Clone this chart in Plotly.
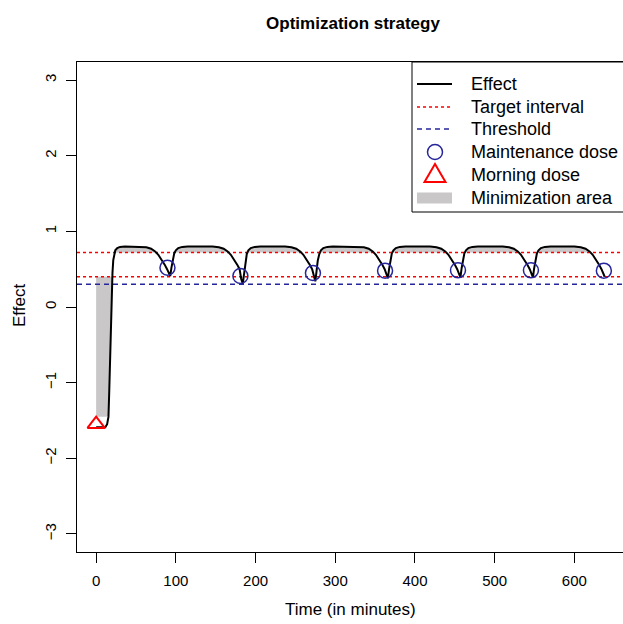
import numpy as np
import plotly.graph_objects as go

# ---------------- data ----------------
time_min = [
    0, 11.5, 13.8, 15.5, 16.5, 18, 19.5, 20.5, 21.5, 22.5, 24, 26.5, 30, 36,
    55, 63, 69, 74, 78, 82, 86, 89, 91, 93, 94.5, 96, 98, 100, 103, 108, 115,
    146, 154, 160, 165, 169, 173, 177, 180, 182, 184, 185.5, 187, 189, 191, 194, 199, 206,
    237, 245, 251, 256, 260, 264, 268, 271, 273, 275, 276.5, 278, 280, 282, 285, 290, 297,
    328, 336, 342, 347, 351, 355, 359, 362, 364, 366, 367.5, 369, 371, 373, 376, 381, 388,
    419, 427, 433, 438, 442, 446, 450, 453, 455, 457, 458.5, 460, 462, 464, 467, 472, 479,
    510, 518, 524, 529, 533, 537, 541, 544, 546, 548, 549.5, 551, 553, 555, 558, 563, 570,
    600, 608, 614, 619, 623, 627, 631, 634, 636, 638,
]
effect = [
    -1.59, -1.59, -1.55, -1.45, -1.10, -0.40, 0.20, 0.45, 0.62, 0.70, 0.75, 0.78, 0.795, 0.80,
    0.80, 0.79, 0.77, 0.735, 0.69, 0.63, 0.56, 0.50, 0.46, 0.41, 0.52, 0.63, 0.71, 0.75, 0.78, 0.795, 0.80,
    0.80, 0.79, 0.77, 0.735, 0.69, 0.63, 0.56, 0.50, 0.37, 0.31, 0.45, 0.60, 0.70, 0.75, 0.78, 0.795, 0.80,
    0.80, 0.79, 0.77, 0.735, 0.69, 0.63, 0.56, 0.50, 0.40, 0.34, 0.47, 0.61, 0.70, 0.75, 0.78, 0.795, 0.80,
    0.80, 0.79, 0.77, 0.735, 0.69, 0.63, 0.56, 0.50, 0.43, 0.38, 0.50, 0.62, 0.71, 0.75, 0.78, 0.795, 0.80,
    0.80, 0.79, 0.77, 0.735, 0.69, 0.63, 0.56, 0.50, 0.44, 0.39, 0.51, 0.62, 0.71, 0.75, 0.78, 0.795, 0.80,
    0.80, 0.79, 0.77, 0.735, 0.69, 0.63, 0.56, 0.50, 0.44, 0.39, 0.51, 0.62, 0.71, 0.75, 0.78, 0.795, 0.80,
    0.80, 0.79, 0.77, 0.735, 0.69, 0.63, 0.56, 0.50, 0.45, 0.40,
]
maintenance_time = [89.5, 181, 272, 362.5, 454, 545.5, 637]
maintenance_effect = [0.52, 0.41, 0.45, 0.48, 0.485, 0.485, 0.48]
morning_time = [0]
morning_effect = [-1.55]
target_interval = [0.40, 0.72]
threshold = 0.30
area_floor = -1.45

x_ticks = [0, 100, 200, 300, 400, 500, 600]
y_ticks = [-3, -2, -1, 0, 1, 2, 3]
legend_labels = ["Effect", "Target interval", "Threshold",
                 "Maintenance dose", "Morning dose", "Minimization area"]

title_text = "Optimization strategy"
x_title = "Time (in minutes)"
y_title = "Effect"

# ---------------- styling / layout ----------------
W, H = 623, 624
PL, PR, PT, PB = 77, 623, 62, 552
X_RANGE = [-24, 661]
Y_RANGE = [-3.24, 3.24]
FONT = "Liberation Sans, Arial, sans-serif"
RED = "#ff0000"
BLUE = "#26269c"
GREY = "#c9c7c7"


def px_x(p):
    return (p - PL) / (PR - PL)


def px_y(p):
    return (PB - p) / (PB - PT)


t = np.array(time_min)
e = np.array(effect)
lo, hi = target_interval

fig = go.Figure()

# minimization area (above upper target)
fig.add_trace(go.Scatter(x=t, y=np.full_like(e, hi), mode="lines",
                         line=dict(width=0), showlegend=False, hoverinfo="skip"))
fig.add_trace(go.Scatter(x=t, y=np.maximum(e, hi), mode="lines",
                         line=dict(width=0), fill="tonexty", fillcolor=GREY,
                         showlegend=False, hoverinfo="skip"))
# minimization area (below lower target)
fig.add_trace(go.Scatter(x=t, y=np.full_like(e, lo), mode="lines",
                         line=dict(width=0), showlegend=False, hoverinfo="skip"))
fig.add_trace(go.Scatter(x=t, y=np.clip(e, area_floor, lo), mode="lines",
                         line=dict(width=0), fill="tonexty", fillcolor=GREY,
                         showlegend=False, hoverinfo="skip"))

# target interval and threshold
for v in target_interval:
    fig.add_trace(go.Scatter(x=X_RANGE, y=[v, v], mode="lines",
                             line=dict(color=RED, width=1.5, dash="dot"),
                             showlegend=False, hoverinfo="skip"))
fig.add_trace(go.Scatter(x=X_RANGE, y=[threshold, threshold], mode="lines",
                         line=dict(color=BLUE, width=1.5, dash="5px,4px"),
                         showlegend=False, hoverinfo="skip"))

# effect curve
fig.add_trace(go.Scatter(x=t, y=e, mode="lines", line=dict(color="black", width=2),
                         showlegend=False))
# doses
fig.add_trace(go.Scatter(x=maintenance_time, y=maintenance_effect, mode="markers",
                         marker=dict(symbol="circle-open", size=15,
                                     line=dict(color=BLUE, width=1.5), color=BLUE),
                         showlegend=False))
fig.add_trace(go.Scatter(x=morning_time, y=morning_effect, mode="markers",
                         marker=dict(symbol="triangle-up-open", size=15,
                                     line=dict(color=RED, width=2), color=RED),
                         showlegend=False))

# ---------------- hand-drawn legend (R style) ----------------
shapes = []
annotations = []
shapes.append(dict(type="rect", xref="paper", yref="paper",
                   x0=px_x(412), x1=px_x(640), y0=px_y(212), y1=px_y(62),
                   line=dict(color="black", width=1), fillcolor="white", layer="above"))
ly = [84, 107, 129, 152, 175, 198]
sx0, sx1, sxc = 417, 452, 435
shapes.append(dict(type="line", xref="paper", yref="paper", x0=px_x(sx0), x1=px_x(sx1),
                   y0=px_y(ly[0]), y1=px_y(ly[0]), line=dict(color="black", width=2)))
shapes.append(dict(type="line", xref="paper", yref="paper", x0=px_x(sx0), x1=px_x(sx1),
                   y0=px_y(ly[1]), y1=px_y(ly[1]), line=dict(color=RED, width=1.5, dash="dot")))
shapes.append(dict(type="line", xref="paper", yref="paper", x0=px_x(sx0), x1=px_x(sx1),
                   y0=px_y(ly[2]), y1=px_y(ly[2]), line=dict(color=BLUE, width=1.5, dash="5px,4px")))
shapes.append(dict(type="circle", xref="paper", yref="paper",
                   x0=px_x(sxc - 7.5), x1=px_x(sxc + 7.5),
                   y0=px_y(ly[3] + 7.5), y1=px_y(ly[3] - 7.5),
                   line=dict(color=BLUE, width=1.5)))
tri = [(sxc, ly[4] - 11), (sxc - 10.5, ly[4] + 7), (sxc + 10.5, ly[4] + 7)]
path = "M {} {} L {} {} L {} {} Z".format(
    px_x(tri[0][0]), px_y(tri[0][1]), px_x(tri[1][0]), px_y(tri[1][1]),
    px_x(tri[2][0]), px_y(tri[2][1]))
shapes.append(dict(type="path", xref="paper", yref="paper", path=path,
                   line=dict(color=RED, width=2)))
shapes.append(dict(type="rect", xref="paper", yref="paper",
                   x0=px_x(sx0), x1=px_x(sx1), y0=px_y(ly[5] + 5.5), y1=px_y(ly[5] - 5.5),
                   line=dict(width=0), fillcolor=GREY))
for lab, yy in zip(legend_labels, ly):
    annotations.append(dict(text=lab, xref="paper", yref="paper", x=px_x(469), y=px_y(yy),
                            xanchor="left", yanchor="middle", showarrow=False,
                            font=dict(family=FONT, size=18, color="black")))

# axis titles
annotations.append(dict(text=x_title, xref="paper", yref="paper", x=0.5, y=px_y(609),
                        xanchor="center", yanchor="middle", showarrow=False,
                        font=dict(family=FONT, size=17, color="black")))
annotations.append(dict(text=y_title, xref="paper", yref="paper", x=px_x(19), y=px_y(306),
                        xanchor="center", yanchor="middle", showarrow=False, textangle=-90,
                        font=dict(family=FONT, size=17, color="black")))

fig.update_layout(
    width=W, height=H, autosize=False,
    margin=dict(l=PL, r=W - PR, t=PT, b=H - PB, pad=0),
    paper_bgcolor="white", plot_bgcolor="white",
    font=dict(family=FONT, size=15, color="black"),
    title=dict(text="<b>" + title_text + "</b>", x=353 / W, xanchor="center",
               y=1 - 23 / H, yanchor="middle", xref="container", yref="container",
               font=dict(family=FONT, size=17, color="black")),
    shapes=shapes, annotations=annotations, showlegend=False,
)
fig.update_xaxes(range=X_RANGE, tickvals=x_ticks, ticks="outside", ticklen=10,
                 tickwidth=1, tickcolor="black", showline=True, linecolor="black",
                 linewidth=1, mirror=True, showgrid=False, zeroline=False,
                 ticklabelstandoff=5, tickfont=dict(size=15))
fig.update_yaxes(range=Y_RANGE, tickvals=y_ticks, ticks="outside", ticklen=10,
                 tickwidth=1, tickcolor="black", showline=True, linecolor="black",
                 linewidth=1, mirror=False, showgrid=False, zeroline=False,
                 tickangle=-90, ticklabelstandoff=4, tickfont=dict(size=15))

fig.write_html("out.html",
               config={"displayModeBar": False, "staticPlot": True},
               post_script="document.body.style.margin='0px';"
                           "document.body.style.overflow='hidden';")
